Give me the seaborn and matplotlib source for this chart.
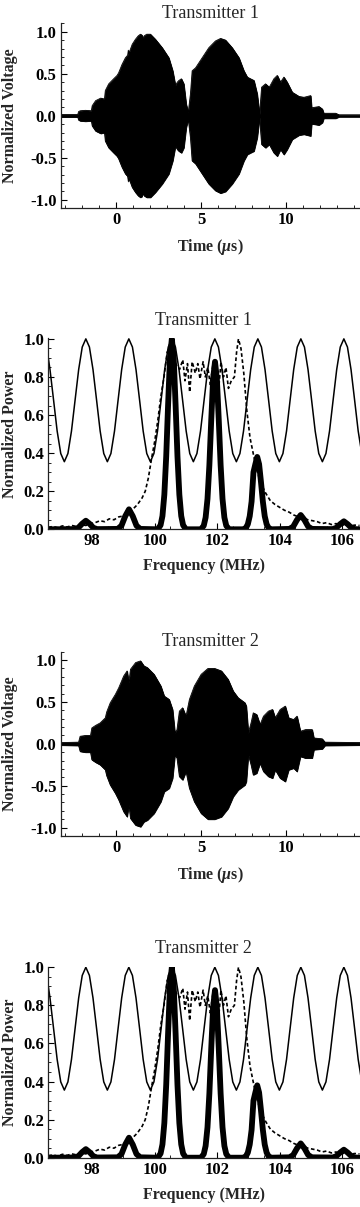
import numpy as np
import matplotlib
matplotlib.use("Agg")
import matplotlib.pyplot as plt
from matplotlib.ticker import MultipleLocator, FormatStrFormatter
import seaborn as sns

# ---- values ----

# time-domain envelope, transmitter 1 (us, normalized amplitude)
t1_time = [-3.3, -2.25, -2.2, -2.1, -1.8, -1.45, -1.4, -1.2, -0.9, -0.68, -0.63, -0.43,
           -0.14, 0.06, 0.15, 0.35, 0.55, 0.68, 0.72, 0.75, 0.95, 1.14, 1.3, 1.43, 1.52, 1.57, 1.65,
           1.8, 2.02, 2.31, 2.71, 3.1, 3.33, 3.49, 3.6, 3.69, 3.84, 3.98, 4.12, 4.24,
           4.37, 4.47, 4.67, 5.06, 5.45, 5.84, 6.14, 6.43, 6.82, 7.22, 7.51, 7.71, 7.9,
           8.1, 8.29, 8.43, 8.55, 8.78, 9.0, 9.27, 9.47, 9.66, 9.86, 10.05, 10.35, 10.75,
           11.04, 11.43, 11.49, 11.92, 12.12, 12.2, 12.9, 13.1, 14.4]
t1_amp = [0.015, 0.015, 0.05, 0.06, 0.065, 0.06, 0.12, 0.18, 0.21, 0.2, 0.30, 0.38,
          0.44, 0.48, 0.51, 0.61, 0.69, 0.72, 0.78, 0.74, 0.85, 0.91, 0.95, 0.97, 0.96, 0.92, 0.95,
          0.97, 0.97, 0.91, 0.81, 0.69, 0.535, 0.36, 0.40, 0.42, 0.44, 0.38, 0.14, 0.04,
          0.26, 0.535, 0.57, 0.69, 0.81, 0.89, 0.92, 0.90, 0.81, 0.69, 0.535, 0.46, 0.44,
          0.42, 0.26, 0.02, 0.34, 0.38, 0.34, 0.44, 0.48, 0.40, 0.46, 0.40, 0.28, 0.23,
          0.22, 0.24, 0.095, 0.11, 0.08, 0.03, 0.03, 0.012, 0.012]

# time-domain envelope, transmitter 2
t2_time = [-3.3, -2.2, -2.11, -1.8, -1.5, -1.42, -1.2, -0.93, -0.63, -0.55, -0.34, -0.04,
           0.16, 0.45, 0.65, 0.75, 0.85, 1.15, 1.44, 1.64, 1.84, 2.23, 2.63, 2.83, 3.12,
           3.32, 3.46, 3.58, 3.72, 3.91, 4.11, 4.31, 4.6, 5.0, 5.4, 5.79, 6.19, 6.58, 6.88,
           7.17, 7.57, 7.65, 7.77, 7.93, 8.06, 8.26, 8.46, 8.66, 8.95, 9.19, 9.35, 9.64,
           9.94, 10.14, 10.43, 10.63, 10.83, 11.13, 11.52, 11.62, 12.11, 12.27, 14.4]
t2_amp = [0.015, 0.02, 0.09, 0.10, 0.10, 0.19, 0.22, 0.25, 0.31, 0.38, 0.49, 0.59,
          0.67, 0.81, 0.87, 0.73, 0.89, 0.97, 0.99, 0.93, 0.91, 0.83, 0.69, 0.57, 0.53,
          0.41, 0.13, 0.17, 0.39, 0.43, 0.33, 0.53, 0.69, 0.83, 0.90, 0.90, 0.87, 0.77, 0.63,
          0.55, 0.49, 0.45, 0.13, 0.25, 0.37, 0.35, 0.23, 0.33, 0.39, 0.41, 0.31, 0.41,
          0.45, 0.31, 0.29, 0.33, 0.15, 0.17, 0.17, 0.07, 0.06, 0.02, 0.015]

# comb (solid thin) response, MHz
comb_freq = [96.600, 96.654, 96.769, 96.883, 96.998, 97.113, 97.227, 97.341, 97.456, 97.571, 97.685,
             97.800, 97.915, 98.029, 98.144, 98.258, 98.373, 98.488, 98.602, 98.717, 98.831, 98.946, 99.060,
             99.175, 99.290, 99.404, 99.519, 99.633, 99.748, 99.863, 99.977, 100.092, 100.206, 100.321, 100.435,
             100.550, 100.665, 100.779, 100.894, 101.008, 101.123, 101.238, 101.352, 101.467, 101.581, 101.696, 101.810,
             101.925, 102.040, 102.154, 102.269, 102.383, 102.498, 102.613, 102.727, 102.842, 102.956, 103.071, 103.185,
             103.300, 103.415, 103.529, 103.644, 103.758, 103.873, 103.988, 104.102, 104.217, 104.331, 104.446, 104.560,
             104.675, 104.790, 104.904, 105.019, 105.133, 105.248, 105.363, 105.477, 105.592, 105.706, 105.821, 105.935,
             106.050, 106.165, 106.279, 106.394, 106.508, 106.623]
comb_power = [0.900, 0.839, 0.678, 0.516, 0.398, 0.355, 0.398, 0.516, 0.678, 0.839, 0.957,
              1.000, 0.957, 0.839, 0.678, 0.516, 0.398, 0.355, 0.398, 0.516, 0.678, 0.839, 0.957,
              1.000, 0.957, 0.839, 0.678, 0.516, 0.398, 0.355, 0.398, 0.516, 0.678, 0.839, 0.957,
              1.000, 0.957, 0.839, 0.678, 0.516, 0.398, 0.355, 0.398, 0.516, 0.678, 0.839, 0.957,
              1.000, 0.957, 0.839, 0.678, 0.516, 0.398, 0.355, 0.398, 0.516, 0.678, 0.839, 0.957,
              1.000, 0.957, 0.839, 0.678, 0.516, 0.398, 0.355, 0.398, 0.516, 0.678, 0.839, 0.957,
              1.000, 0.957, 0.839, 0.678, 0.516, 0.398, 0.355, 0.398, 0.516, 0.678, 0.839, 0.957,
              1.000, 0.957, 0.839, 0.678, 0.516, 0.398]

# measured spectrum (dashed)
spec_freq = [96.60, 96.75, 96.90, 97.05, 97.20, 97.35, 97.50, 97.65, 97.80, 97.95, 98.10, 98.25,
             98.40, 98.55, 98.70, 98.85, 99.00, 99.15, 99.30, 99.45, 99.60, 99.70, 99.80, 99.90,
             100.00, 100.10, 100.20, 100.30, 100.40, 100.50, 100.60, 100.70, 100.80, 100.90, 100.97,
             101.05, 101.12, 101.20, 101.30, 101.38, 101.45, 101.55, 101.62, 101.70, 101.78, 101.86,
             101.95, 102.05, 102.12, 102.20, 102.28, 102.36, 102.45, 102.55, 102.62, 102.68, 102.76,
             102.85, 102.95, 103.05, 103.15, 103.25, 103.40, 103.55, 103.70, 103.85, 104.00, 104.15,
             104.30, 104.45, 104.60, 104.75, 104.90, 105.05, 105.20, 105.35, 105.50, 105.65, 105.80,
             105.95, 106.10, 106.25, 106.40, 106.55]
spec_power = [0.010, 0.015, 0.008, 0.018, 0.012, 0.020, 0.015, 0.025, 0.020, 0.030, 0.035, 0.045,
              0.040, 0.055, 0.050, 0.065, 0.070, 0.090, 0.105, 0.130, 0.165, 0.200, 0.270, 0.370,
              0.460, 0.570, 0.700, 0.800, 0.930, 0.960, 0.900, 0.860, 0.840, 0.890, 0.780,
              0.870, 0.720, 0.880, 0.820, 0.870, 0.790, 0.880, 0.800, 0.850, 0.760, 0.860,
              0.820, 0.740, 0.880, 0.800, 0.850, 0.740, 0.780, 0.800, 0.930, 1.000, 0.950,
              0.820, 0.620, 0.480, 0.400, 0.320, 0.240, 0.190, 0.150, 0.130, 0.115, 0.100,
              0.090, 0.075, 0.065, 0.060, 0.050, 0.045, 0.040, 0.030, 0.035, 0.025, 0.030,
              0.020, 0.025, 0.018, 0.022, 0.020]

# filtered output (thick)
filt_freq = [96.60,
             97.44, 97.56, 97.68, 97.80, 97.92, 98.04, 98.16,
             98.82, 98.94, 99.06, 99.18, 99.30, 99.42, 99.54,
             100.10, 100.19, 100.25, 100.31, 100.37, 100.43, 100.49, 100.55,
             100.61, 100.67, 100.73, 100.79, 100.85, 100.91, 101.00,
             101.48, 101.57, 101.63, 101.69, 101.75, 101.81, 101.87, 101.93,
             101.99, 102.05, 102.11, 102.17, 102.23, 102.29, 102.38,
             102.83, 102.92, 102.98, 103.04, 103.10, 103.16, 103.22, 103.28,
             103.34, 103.40, 103.46, 103.52, 103.58, 103.64, 103.73,
             104.31, 104.43, 104.55, 104.67, 104.79, 104.91, 105.03,
             105.69, 105.81, 105.93, 106.05, 106.17, 106.29, 106.41,
             106.55]
filt_power = [0.0,
              0.001, 0.008, 0.029, 0.045, 0.029, 0.008, 0.001,
              0.002, 0.019, 0.069, 0.105, 0.069, 0.019, 0.002,
              0.0, 0.022, 0.07, 0.182, 0.383, 0.653, 0.899, 1.0,
              0.899, 0.653, 0.383, 0.182, 0.07, 0.022, 0.0,
              0.0, 0.019, 0.062, 0.160, 0.337, 0.575, 0.791, 0.88,
              0.791, 0.575, 0.337, 0.160, 0.062, 0.019, 0.0,
              0.0, 0.008, 0.027, 0.069, 0.146, 0.300, 0.342, 0.38,
              0.342, 0.248, 0.146, 0.069, 0.027, 0.008, 0.0,
              0.002, 0.014, 0.049, 0.075, 0.049, 0.014, 0.002,
              0.001, 0.008, 0.027, 0.042, 0.027, 0.008, 0.001,
              0.0]

titles = ["Transmitter 1", "Transmitter 1", "Transmitter 2", "Transmitter 2"]

# ---- style ----
sns.set_style("ticks")
plt.rcParams['font.family'] = ['Liberation Serif', 'DejaVu Serif']
plt.rcParams['font.weight'] = 'bold'
plt.rcParams['axes.unicode_minus'] = False
plt.rcParams['mathtext.fontset'] = 'custom'
plt.rcParams['mathtext.rm'] = 'Liberation Serif:bold'
plt.rcParams['mathtext.it'] = 'Liberation Serif:italic:bold'
plt.rcParams['axes.linewidth'] = 0.9
plt.rcParams['axes.edgecolor'] = '#222222'

W, H = 360, 1207
fig = plt.figure(figsize=(W / 100, H / 100), dpi=100)


def add_axes(left, top, right, bottom):
    return fig.add_axes([left / W, 1 - bottom / H, (right - left) / W, (bottom - top) / H])


def style(ax, box, xlabel, ylabel, title, title_pad, ylab_x=18, xlab_gap=29):
    left, top, right, bottom = box
    sns.despine(ax=ax)
    ax.tick_params(which='both', direction='in', top=False, right=False,
                   labelsize=12, colors='black')
    ax.tick_params(which='major', length=4, width=0.8, pad=3)
    ax.tick_params(which='minor', length=2.2, width=0.6)
    for lab in ax.get_xticklabels() + ax.get_yticklabels():
        lab.set_fontweight('bold')
    ax.set_ylabel(ylabel, fontsize=11.5, fontweight='bold')
    ax.yaxis.set_label_coords((ylab_x - left) / (right - left), 0.5)
    ax.set_xlabel(xlabel, fontsize=11.5, fontweight='bold')
    ax.xaxis.set_label_coords(0.5, -xlab_gap / (bottom - top))
    ax.set_title(title, fontsize=13, fontweight='normal', pad=title_pad)


def time_panel(box, t, amp, title, title_pad):
    ax = add_axes(*box)
    lower = np.negative(amp)
    ax.fill_between(t, lower, amp, color='black', edgecolor='black', lw=0.6)
    sns.lineplot(x=t, y=amp, ax=ax, color='black', lw=0.6)
    sns.lineplot(x=t, y=lower, ax=ax, color='black', lw=0.6)
    ax.set_xlim(-3.25, 14.3)
    ax.set_ylim(-1.1, 1.1)
    ax.xaxis.set_major_locator(MultipleLocator(5))
    ax.xaxis.set_minor_locator(MultipleLocator(1))
    ax.yaxis.set_major_locator(MultipleLocator(0.5))
    ax.yaxis.set_minor_locator(MultipleLocator(0.1))
    ax.yaxis.set_major_formatter(FormatStrFormatter('%.1f'))
    style(ax, box, r"Time ($\mu$s)", "Normalized Voltage", title, title_pad)
    return ax


def freq_panel(box, title, title_pad):
    ax = add_axes(*box)
    sns.lineplot(x=comb_freq, y=comb_power, ax=ax, color='black', lw=1.1, sort=False)
    sns.lineplot(x=spec_freq, y=spec_power, ax=ax, color='black', lw=1.2,
                 linestyle=(0, (2.2, 1.5)), sort=False)
    sns.lineplot(x=filt_freq, y=filt_power, ax=ax, color='black', lw=4.2,
                 solid_joinstyle='round', solid_capstyle='round', sort=False)
    ax.set_xlim(96.6, 106.55)
    ax.set_ylim(0, 1.003)
    ax.xaxis.set_major_locator(MultipleLocator(2))
    ax.xaxis.set_minor_locator(MultipleLocator(0.5))
    ax.yaxis.set_major_locator(MultipleLocator(0.2))
    ax.yaxis.set_minor_locator(MultipleLocator(0.05))
    ax.xaxis.set_major_formatter(FormatStrFormatter('%d'))
    ax.yaxis.set_major_formatter(FormatStrFormatter('%.1f'))
    style(ax, box, "Frequency (MHz)", "Normalized Power", title, title_pad)
    return ax


time_panel((60.7, 23.3, 359.5, 208.3), t1_time, t1_amp, titles[0], 3.7)
freq_panel((48.3, 338.3, 359.5, 529.3), titles[1], 9.6)
time_panel((60.7, 651.7, 359.5, 836.0), t2_time, t2_amp, titles[2], 4.0)
freq_panel((48.3, 966.7, 359.5, 1157.7), titles[3], 9.6)

fig.savefig("out.png", dpi=100)
